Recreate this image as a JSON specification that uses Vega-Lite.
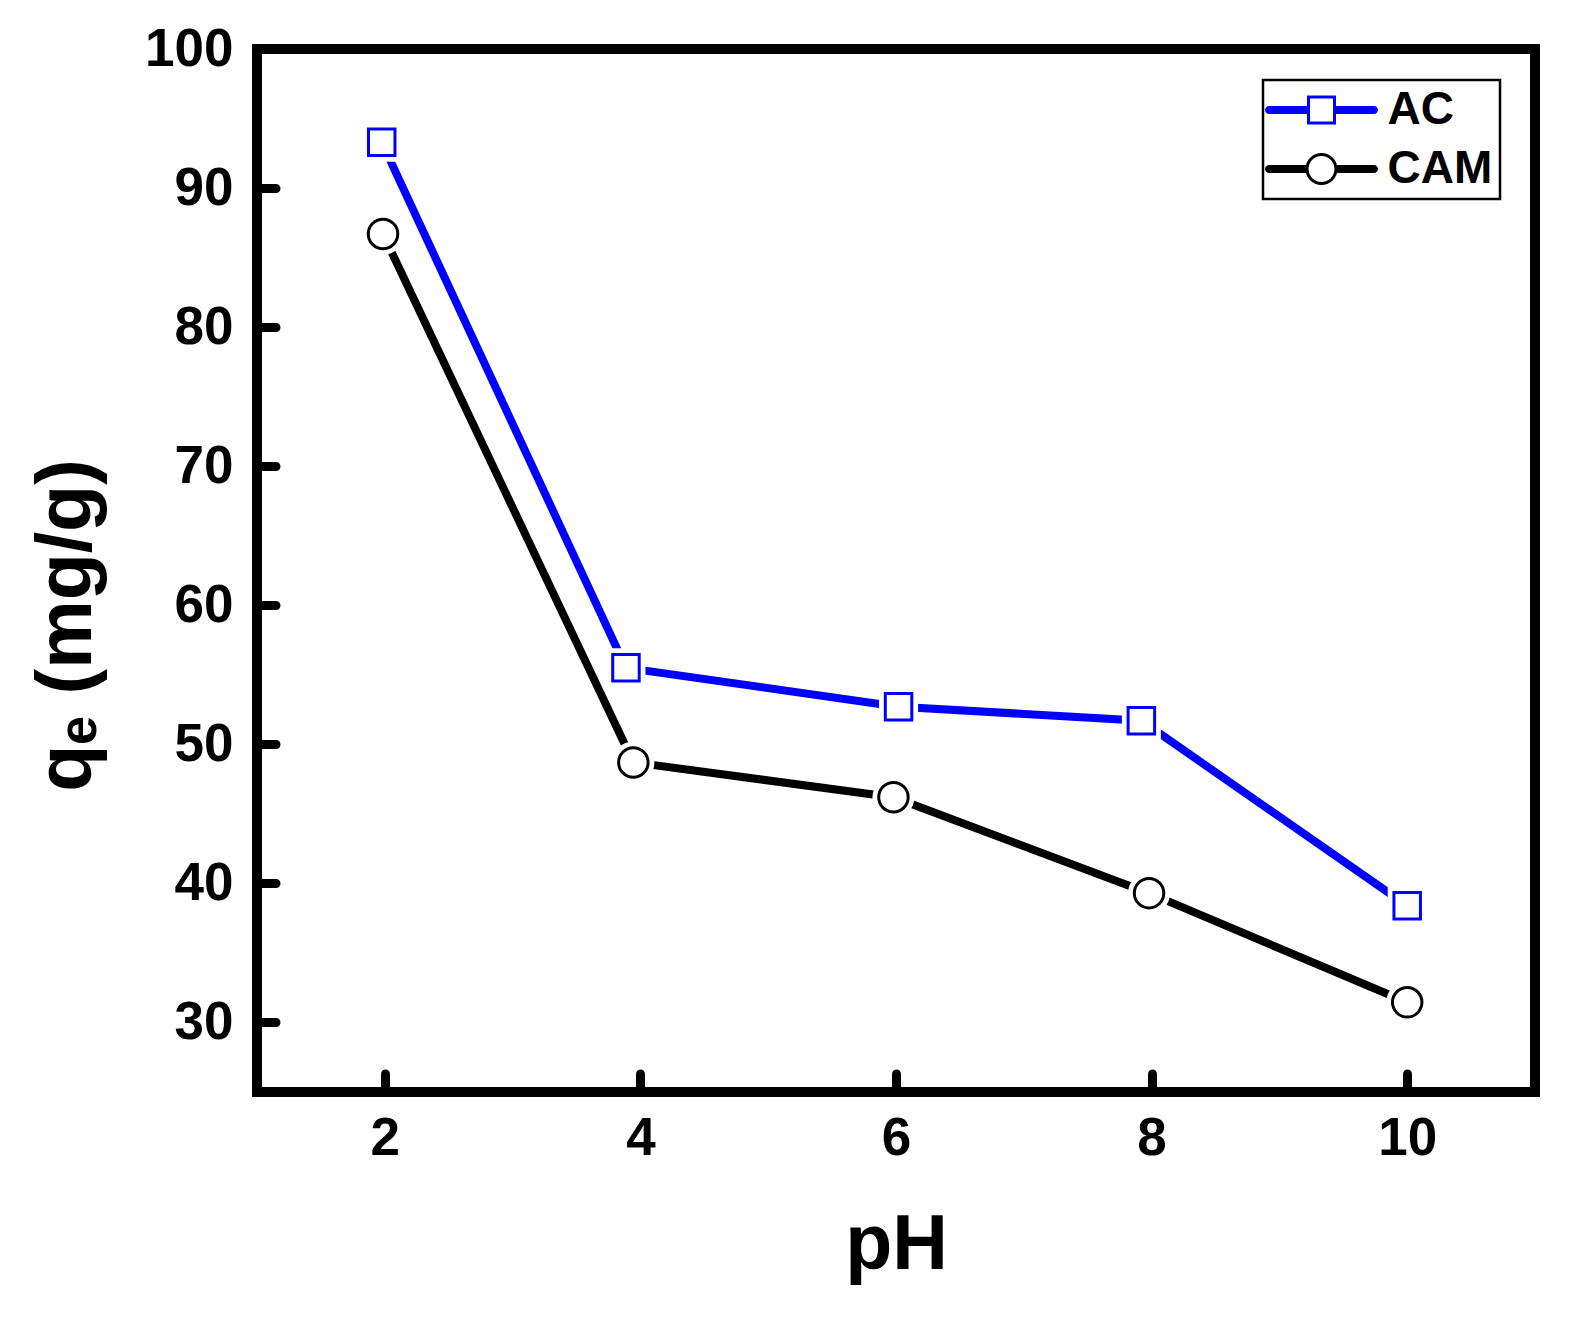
{
  "$schema": "https://vega.github.io/schema/vega-lite/v6.json",
  "width": 1278,
  "height": 1043,
  "autosize": "none",
  "padding": {"left": 257, "top": 49, "right": 46, "bottom": 226},
  "background": "white",
  "data": {
    "values": [
      {"pH": 1.976, "qe": 93.3, "series": "AC"},
      {"pH": 3.887, "qe": 55.5, "series": "AC"},
      {"pH": 6.02, "qe": 52.7, "series": "AC"},
      {"pH": 7.92, "qe": 51.7, "series": "AC"},
      {"pH": 10.0, "qe": 38.4, "series": "AC"},
      {"pH": 1.986, "qe": 86.7, "series": "CAM"},
      {"pH": 3.945, "qe": 48.7, "series": "CAM"},
      {"pH": 5.98, "qe": 46.2, "series": "CAM"},
      {"pH": 7.98, "qe": 39.3, "series": "CAM"},
      {"pH": 10.0, "qe": 31.45, "series": "CAM"}
    ]
  },
  "encoding": {
    "x": {
      "field": "pH",
      "type": "quantitative",
      "title": "pH",
      "scale": {"domain": [1, 11], "nice": false, "zero": false},
      "axis": {
        "values": [2, 4, 6, 8, 10],
        "format": "d",
        "labelPadding": 38.5,
        "titleY": 176,
        "titleBaseline": "alphabetic"
      }
    },
    "y": {
      "field": "qe",
      "type": "quantitative",
      "title": "qₑ (mg/g)",
      "scale": {"domain": [25, 100], "nice": false, "zero": false},
      "axis": {
        "values": [30, 40, 50, 60, 70, 80, 90, 100],
        "format": "d",
        "labelPadding": 42.5,
        "titleX": -167,
        "titleY": 576,
        "titleBaseline": "alphabetic"
      }
    }
  },
  "layer": [
    {
      "mark": {"type": "line", "strokeWidth": 8, "strokeCap": "round"},
      "encoding": {
        "stroke": {
          "field": "series",
          "type": "nominal",
          "scale": {"domain": ["AC", "CAM"], "range": ["#0000ff", "#000000"]},
          "legend": {
            "orient": "none",
            "legendX": 1006,
            "legendY": 31,
            "title": null,
            "padding": 7,
            "rowPadding": 13,
            "symbolOffset": 28.5,
            "labelOffset": 43,
            "symbolSize": 1024,
            "symbolStrokeWidth": 0,
            "labelFontSize": 46,
            "labelFont": "Liberation Sans",
            "labelFontWeight": "bold",
            "labelColor": "black",
            "strokeColor": "black",
            "fillColor": "white",
            "encode": {
              "legend": {
                "update": {"strokeWidth": {"value": 2.5}}
              },
              "symbols": {
                "update": {
                  "shape": {"signal": "datum.value === 'AC' ? 'M-3.28,-0.25L-0.906,-0.25L-0.906,0.25L-3.28,0.25A0.25,0.25,0,0,1,-3.28,-0.25Z M0.906,-0.25L3.28,-0.25A0.25,0.25,0,0,1,3.28,0.25L0.906,0.25Z M-0.906,-0.906L0.906,-0.906L0.906,0.906L-0.906,0.906Z M-0.719,-0.719L-0.719,0.719L0.719,0.719L0.719,-0.719Z' : 'M-3.28,-0.25L-0.9,-0.25L-0.9,0.25L-3.28,0.25A0.25,0.25,0,0,1,-3.28,-0.25Z M0.9,-0.25L3.28,-0.25A0.25,0.25,0,0,1,3.28,0.25L0.9,0.25Z M1,0A1,1,0,1,1,-1,0A1,1,0,1,1,1,0Z M0.8125,0A0.8125,0.8125,0,1,0,-0.8125,0A0.8125,0.8125,0,1,0,0.8125,0Z'"},
                  "fill": {"signal": "datum.value === 'AC' ? '#0000ff' : '#000000'"},
                  "fillOpacity": {"value": 1},
                  "strokeWidth": {"value": 0}
                }
              }
            }
          }
        }
      }
    },
    {
      "transform": [{"filter": "datum.series === 'AC'"}],
      "mark": {"type": "point", "shape": "square", "size": 1521, "filled": true, "fill": "white", "strokeWidth": 0, "opacity": 1}
    },
    {
      "transform": [{"filter": "datum.series === 'CAM'"}],
      "mark": {"type": "point", "shape": "circle", "size": 1764, "filled": true, "fill": "white", "strokeWidth": 0, "opacity": 1}
    },
    {
      "transform": [{"filter": "datum.series === 'AC'"}],
      "mark": {"type": "point", "shape": "square", "size": 702, "filled": false, "fill": "white", "fillOpacity": 1, "stroke": "#0000ff", "strokeWidth": 3, "opacity": 1}
    },
    {
      "transform": [{"filter": "datum.series === 'CAM'"}],
      "mark": {"type": "point", "shape": "circle", "size": 870, "filled": false, "fill": "white", "fillOpacity": 1, "stroke": "#000000", "strokeWidth": 3, "opacity": 1}
    }
  ],
  "config": {
    "font": "Liberation Sans",
    "view": {"stroke": "black", "strokeWidth": 10},
    "axis": {
      "grid": false,
      "domain": false,
      "ticks": true,
      "tickColor": "black",
      "tickWidth": 9,
      "tickSize": -18.5,
      "tickCap": "round",
      "labelFont": "Liberation Sans",
      "labelFontSize": 53,
      "labelFontWeight": "bold",
      "labelColor": "black",
      "labelOverlap": false,
      "labelBound": false,
      "labelFlush": false,
      "titleFont": "Liberation Sans",
      "titleFontSize": 77,
      "titleFontWeight": "bold",
      "titleColor": "black"
    }
  }
}
